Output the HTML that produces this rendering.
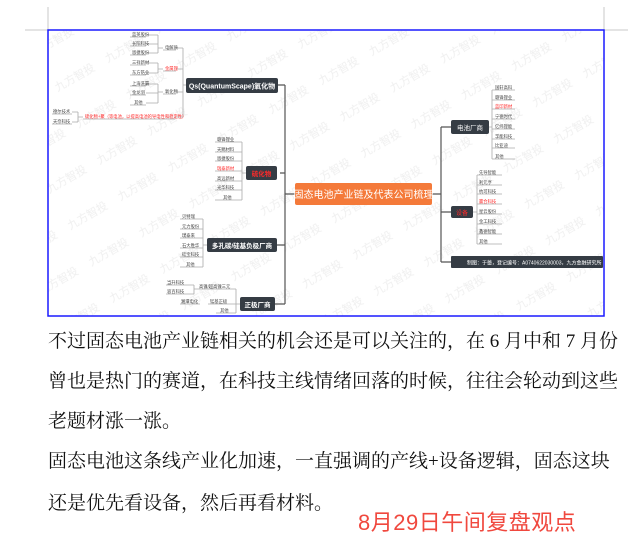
<!DOCTYPE html>
<html><head><meta charset="utf-8"><style>
html,body{margin:0;padding:0;background:#fff;width:637px;height:555px;overflow:hidden;position:relative}
.p{position:absolute;left:48px;width:556px;font-family:"Liberation Serif","Noto Serif CJK SC",serif;font-size:19px;color:#111;white-space:nowrap;line-height:24px;text-align:justify;text-align-last:justify}
.r{position:absolute;left:358px;top:508px;font-family:"Liberation Sans","Noto Sans CJK SC",sans-serif;font-size:22px;color:#f0483e;white-space:nowrap;line-height:30px;letter-spacing:0.5px}
svg text{font-family:"Liberation Sans","Noto Sans CJK SC",sans-serif}
</style></head><body>
<svg width="637" height="555" style="position:absolute;left:0;top:0">
<defs>
<pattern id="wm" width="58" height="42" patternUnits="userSpaceOnUse" patternTransform="rotate(-30)">
<text x="4" y="24" font-size="11" fill="#efefef">九方智投</text>
</pattern>
</defs>
<line x1="48" y1="7" x2="48" y2="30" stroke="#c8c8c8"/>
<line x1="25" y1="30" x2="48" y2="30" stroke="#c8c8c8"/>
<line x1="604" y1="7" x2="604" y2="30" stroke="#c8c8c8"/>
<line x1="604" y1="30" x2="628" y2="30" stroke="#c8c8c8"/>
<rect x="48" y="30" width="556" height="286" fill="#fff"/>
<rect x="48" y="30" width="556" height="286" fill="url(#wm)"/>
<g stroke="#555" stroke-width="1.2" fill="none">
<path d="M285 85 V304 M278 85 H285 M280 173 H285 M277 245 H285 M275 304 H285 M285 194 H295"/>
<path d="M432 194 H441 M441 127 V262 M441 127 H451 M441 212 H451 M441 262 H451"/>
</g>
<g stroke="#aaa" stroke-width="0.8" fill="none">
<path d="M186 85 H183 M183 48 V117 M176 48 H183 M176 69 H183 M176 92 H183 M175 117 H183"/>
<path d="M163 48 H158 M158 35 V53 M146 35 H158 M146 44 H158 M146 53 H158"/>
<path d="M163 69 H158 M158 63 V73 M146 63 H158 M146 73 H158"/>
<path d="M163 92 H158 M158 84 V103 M146 84 H158 M146 93 H158 M146 103 H158"/>
<path d="M83 117 H78 M78 112 V122 M72 112 H78 M72 122 H78"/>
<path d="M130 37 H146 M130 46 H146 M130 55 H146 M130 65 H146 M130 75 H146 M130 86 H146 M130 95 H146 M130 105 H146 M163 50 H176 M163 71 H176 M163 94 H176 M52 114 H72 M52 124 H72 M83 119 H175"/>
<path d="M246 173 H242 M242 142 V200"/>
<path d="M215 142 H242 M215 152 H242 M215 161 H242 M215 171 H242 M215 181 H242 M215 190 H242 M215 200 H242"/>
<path d="M207 245 H203 M203 219 V267"/>
<path d="M180 219 H203 M180 229 H203 M180 238 H203 M180 248 H203 M180 257 H203 M180 267 H203"/>
<path d="M240 304 H236 M236 289 V313 M197 289 H236 M208 304 H236 M216 313 H236"/>
<path d="M197 289 H194 M194 285 V294 M166 285 H194 M166 294 H194 M180 304 H200"/>
<path d="M489 127 H492 M492 90 V159"/>
<path d="M492 90 H515 M492 100 H515 M492 109 H515 M492 119 H515 M492 129 H515 M492 139 H515 M492 148 H515 M492 159 H515"/>
<path d="M473 212 H477 M477 175 V244"/>
<path d="M477 175 H502 M477 185 H502 M477 194 H502 M477 204 H502 M477 214 H502 M477 224 H502 M477 234 H502 M477 244 H502"/>
</g>
<rect x="186" y="78" width="92" height="15" rx="2" fill="#353c44"/>
<text x="232" y="88.5" font-size="7" fill="#fff" text-anchor="middle" font-weight="bold">Qs(QuantumScape)氧化物</text>
<rect x="246" y="166" width="31" height="14" rx="2" fill="#353c44"/>
<text x="261.5" y="176" font-size="6.5" fill="#ff2a2a" text-anchor="middle" font-weight="bold">硫化物</text>
<rect x="295" y="183" width="137" height="22" rx="2" fill="#f47a3a"/>
<text x="363.5" y="198" font-size="10" fill="#fff" text-anchor="middle">固态电池产业链及代表公司梳理</text>
<rect x="207" y="238" width="70" height="14" rx="2" fill="#353c44"/>
<text x="242" y="248" font-size="6.5" fill="#fff" text-anchor="middle" font-weight="bold">多孔碳/硅基负极厂商</text>
<rect x="240" y="297" width="35" height="14" rx="2" fill="#353c44"/>
<text x="257.5" y="307" font-size="6.5" fill="#fff" text-anchor="middle" font-weight="bold">正极厂商</text>
<rect x="451" y="120" width="38" height="14" rx="2" fill="#353c44"/>
<text x="470" y="130" font-size="6.5" fill="#fff" text-anchor="middle">电池厂商</text>
<rect x="451" y="206" width="22" height="12" rx="2" fill="#353c44"/>
<text x="462" y="215" font-size="6" fill="#ff2a2a" text-anchor="middle">设备</text>
<rect x="451" y="256" width="152" height="12" rx="1" fill="#353c44"/>
<text x="467" y="264.5" font-size="5" fill="#fff">制图：于蕾，登记编号：A0740622030003，九方金融研究所</text>
<g font-size="4.3" fill="#444">
<text x="132" y="36">蓝英股份</text><text x="132" y="45">长阳科技</text><text x="132" y="54">恩捷股份</text>
<text x="132" y="64">三祥新材</text><text x="132" y="74">东方锆业</text>
<text x="132" y="85">上海洗霸</text><text x="132" y="94">金龙羽</text><text x="134" y="104">其他</text>
<text x="165" y="49">电解质</text><text x="165" y="93">氧化物</text>
<text x="53" y="113">德尔技术</text><text x="53" y="123">天奈科技</text>
<text x="217" y="141">赣锋锂业</text><text x="217" y="151">天赐材料</text><text x="217" y="160">恩捷股份</text>
<text x="217" y="180">高远新材</text><text x="217" y="189">光华科技</text><text x="223" y="199">其他</text>
<text x="182" y="218">贝特瑞</text><text x="182" y="228">元力股份</text><text x="182" y="237">璞泰来</text>
<text x="182" y="247">石大胜华</text><text x="182" y="256">硅宝科技</text><text x="186" y="266">其他</text>
<text x="167" y="284">当升科技</text><text x="167" y="293">容百科技</text>
<text x="199" y="288">高镍/超高镍三元</text><text x="181" y="303">湘潭电化</text><text x="210" y="303">锰基正极</text><text x="220" y="312">其他</text>
<text x="495" y="89">国轩高科</text><text x="495" y="99">赣锋锂业</text><text x="495" y="118">宁德时代</text>
<text x="495" y="128">亿纬锂能</text><text x="495" y="138">孚能科技</text><text x="495" y="147">比亚迪</text><text x="495" y="158">其他</text>
<text x="479" y="174">先导智能</text><text x="479" y="184">利元亨</text><text x="479" y="193">杭可科技</text>
<text x="479" y="213">星云股份</text><text x="479" y="223">金工科技</text><text x="479" y="233">鑫德智能</text><text x="479" y="243">其他</text>
</g>
<g font-size="4.3" fill="#ff2a2a">
<text x="165" y="70">金属锂</text>
<text x="85" y="118">硫化物+聚（等电池，以提高电池的导电性和稳定性）</text>
<text x="217" y="170">瑞泰新材</text>
<text x="495" y="108">蓝印新材</text>
<text x="479" y="203">赢合科技</text>
</g>
<rect x="48" y="30" width="556" height="286" fill="none" stroke="#1a1aff" stroke-width="1.5"/>
</svg>
<div class="p" style="top:330px">不过固态电池产业链相关的机会还是可以关注的，在 6 月中和 7 月份</div>
<div class="p" style="top:370px">曾也是热门的赛道，在科技主线情绪回落的时候，往往会轮动到这些</div>
<div class="p" style="top:410px;text-align:left;text-align-last:left">老题材涨一涨。</div>
<div class="p" style="top:450px">固态电池这条线产业化加速，一直强调的产线+设备逻辑，固态这块</div>
<div class="p" style="top:492px;text-align:left;text-align-last:left">还是优先看设备，然后再看材料。</div>
<div class="r">8月29日午间复盘观点</div>
</body></html>
